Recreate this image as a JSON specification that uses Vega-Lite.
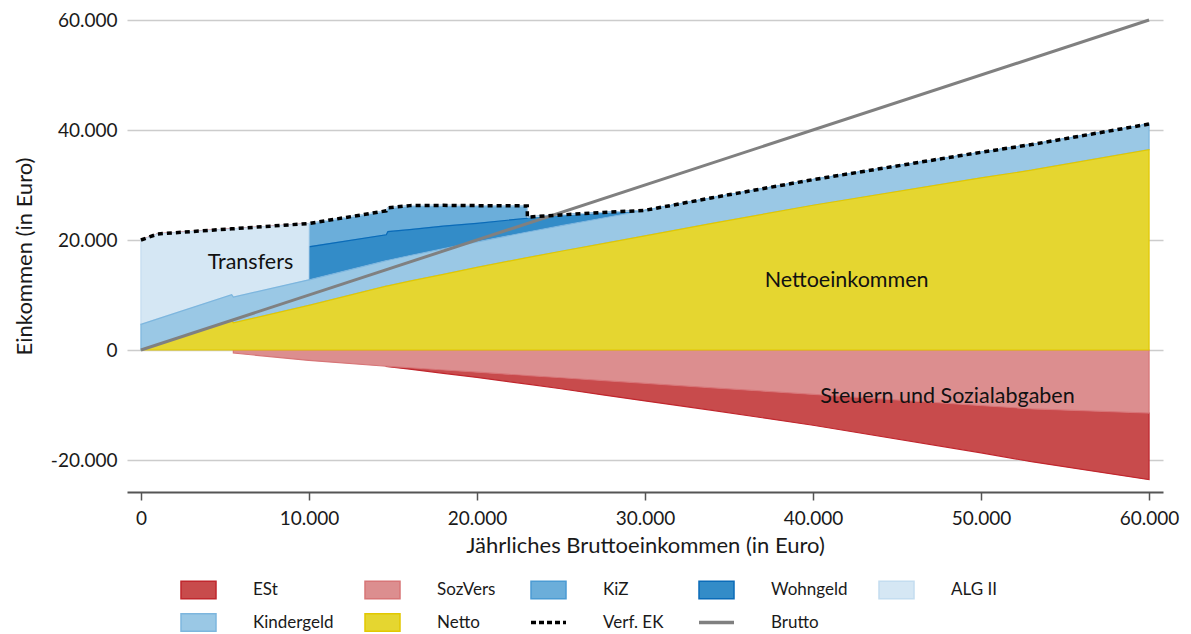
{
  "$schema": "https://vega.github.io/schema/vega-lite/v6.json",
  "autosize": "none",
  "width": 1036,
  "height": 472,
  "padding": {"left": 127, "top": 20, "right": 28, "bottom": 142},
  "config": {
    "font": "Lato",
    "locale": {"number": {"decimal": ",", "thousands": ".", "grouping": [3], "currency": ["", " €"], "minus": "-"}},
    "view": {"stroke": null},
    "axis": {"labelFont": "Lato", "titleFont": "Lato", "labelColor": "#1a1a1a", "titleColor": "#1a1a1a", "titleFontWeight": "normal"}
  },
  "datasets": {
    "werte": [
      {"b": 0, "Netto": 0, "Kindergeld": 4656, "Wohngeld": 0, "KiZ": 0, "ALG II": 15344, "SozVers": 0, "ESt": 0},
      {"b": 1000, "Netto": 1000, "Kindergeld": 4656, "Wohngeld": 0, "KiZ": 0, "ALG II": 15444, "SozVers": 0, "ESt": 0},
      {"b": 5400, "Netto": 5400, "Kindergeld": 4656, "Wohngeld": 0, "KiZ": 0, "ALG II": 11974, "SozVers": 0, "ESt": 0},
      {"b": 5500, "Netto": 4950, "Kindergeld": 4656, "Wohngeld": 0, "KiZ": 0, "ALG II": 12444, "SozVers": -550, "ESt": 0},
      {"b": 9990, "Netto": 8100, "Kindergeld": 4656, "Wohngeld": 0, "KiZ": 0, "ALG II": 10244, "SozVers": -1890, "ESt": 0},
      {"b": 10000, "Netto": 8100, "Kindergeld": 4656, "Wohngeld": 6000, "KiZ": 4244, "ALG II": 0, "SozVers": -1900, "ESt": 0},
      {"b": 14600, "Netto": 11600, "Kindergeld": 4656, "Wohngeld": 4700, "KiZ": 4344, "ALG II": 0, "SozVers": -2950, "ESt": -50},
      {"b": 14700, "Netto": 11660, "Kindergeld": 4656, "Wohngeld": 5200, "KiZ": 4334, "ALG II": 0, "SozVers": -2970, "ESt": -70},
      {"b": 16000, "Netto": 12520, "Kindergeld": 4656, "Wohngeld": 4700, "KiZ": 4374, "ALG II": 0, "SozVers": -3230, "ESt": -250},
      {"b": 18000, "Netto": 13760, "Kindergeld": 4656, "Wohngeld": 4100, "KiZ": 3784, "ALG II": 0, "SozVers": -3640, "ESt": -600},
      {"b": 20000, "Netto": 15010, "Kindergeld": 4656, "Wohngeld": 3350, "KiZ": 3234, "ALG II": 0, "SozVers": -4040, "ESt": -950},
      {"b": 22990, "Netto": 16800, "Kindergeld": 4656, "Wohngeld": 2500, "KiZ": 2244, "ALG II": 0, "SozVers": -4640, "ESt": -1550},
      {"b": 23000, "Netto": 16800, "Kindergeld": 4656, "Wohngeld": 2700, "KiZ": 0, "ALG II": 0, "SozVers": -4650, "ESt": -1550},
      {"b": 25000, "Netto": 17950, "Kindergeld": 4656, "Wohngeld": 1950, "KiZ": 0, "ALG II": 0, "SozVers": -5050, "ESt": -2000},
      {"b": 27500, "Netto": 19340, "Kindergeld": 4656, "Wohngeld": 1000, "KiZ": 0, "ALG II": 0, "SozVers": -5560, "ESt": -2600},
      {"b": 30000, "Netto": 20740, "Kindergeld": 4656, "Wohngeld": 0, "KiZ": 0, "ALG II": 0, "SozVers": -6060, "ESt": -3200},
      {"b": 34000, "Netto": 23030, "Kindergeld": 4656, "Wohngeld": 0, "KiZ": 0, "ALG II": 0, "SozVers": -6870, "ESt": -4100},
      {"b": 40000, "Netto": 26320, "Kindergeld": 4656, "Wohngeld": 0, "KiZ": 0, "ALG II": 0, "SozVers": -8080, "ESt": -5600},
      {"b": 50000, "Netto": 31300, "Kindergeld": 4656, "Wohngeld": 0, "KiZ": 0, "ALG II": 0, "SozVers": -10100, "ESt": -8600},
      {"b": 53000, "Netto": 32690, "Kindergeld": 4656, "Wohngeld": 0, "KiZ": 0, "ALG II": 0, "SozVers": -10710, "ESt": -9600},
      {"b": 60000, "Netto": 36430, "Kindergeld": 4656, "Wohngeld": 0, "KiZ": 0, "ALG II": 0, "SozVers": -11470, "ESt": -12100}
    ],
    "reihen": [
      {"typ": "Netto", "rang": 1},
      {"typ": "Kindergeld", "rang": 2},
      {"typ": "Wohngeld", "rang": 3},
      {"typ": "KiZ", "rang": 4},
      {"typ": "ALG II", "rang": 5},
      {"typ": "SozVers", "rang": 6},
      {"typ": "ESt", "rang": 7}
    ],
    "verf": [
      {"b": 0, "typ": "Verf. EK", "wert": 20000},
      {"b": 1000, "typ": "Verf. EK", "wert": 21100},
      {"b": 5400, "typ": "Verf. EK", "wert": 22030},
      {"b": 5500, "typ": "Verf. EK", "wert": 22050},
      {"b": 9990, "typ": "Verf. EK", "wert": 23000},
      {"b": 10000, "typ": "Verf. EK", "wert": 23000},
      {"b": 14600, "typ": "Verf. EK", "wert": 25300},
      {"b": 14700, "typ": "Verf. EK", "wert": 25850},
      {"b": 16000, "typ": "Verf. EK", "wert": 26250},
      {"b": 18000, "typ": "Verf. EK", "wert": 26300},
      {"b": 20000, "typ": "Verf. EK", "wert": 26250},
      {"b": 22990, "typ": "Verf. EK", "wert": 26200},
      {"b": 23000, "typ": "Verf. EK", "wert": 24156},
      {"b": 25000, "typ": "Verf. EK", "wert": 24556},
      {"b": 27500, "typ": "Verf. EK", "wert": 24996},
      {"b": 30000, "typ": "Verf. EK", "wert": 25396},
      {"b": 34000, "typ": "Verf. EK", "wert": 27686},
      {"b": 40000, "typ": "Verf. EK", "wert": 30976},
      {"b": 50000, "typ": "Verf. EK", "wert": 35956},
      {"b": 53000, "typ": "Verf. EK", "wert": 37346},
      {"b": 60000, "typ": "Verf. EK", "wert": 41086}
    ],
    "brutto": [
      {"b": 0, "typ": "Brutto", "wert": 0},
      {"b": 60000, "typ": "Brutto", "wert": 60000}
    ],
    "labels": [
      {"b": 6520, "wert": 15800, "text": "Transfers"},
      {"b": 42000, "wert": 12500, "text": "Nettoeinkommen"},
      {"b": 48000, "wert": -8550, "text": "Steuern und Sozialabgaben"}
    ]
  },
  "layer": [
    {
      "data": {"name": "werte"},
      "transform": [
        {"fold": ["ESt", "SozVers", "KiZ", "Wohngeld", "ALG II", "Kindergeld", "Netto"], "as": ["typ", "wert"]},
        {"lookup": "typ", "from": {"data": {"name": "reihen"}, "key": "typ", "fields": ["rang"]}}
      ],
      "mark": {"type": "area", "strokeWidth": 1.2, "interpolate": "linear"},
      "encoding": {
        "x": {"field": "b", "type": "quantitative", "scale": {"domain": [-830, 60830], "nice": false, "zero": false},
          "axis": {"values": [0, 10000, 20000, 30000, 40000, 50000, 60000], "format": ",d", "title": "Jährliches Bruttoeinkommen (in Euro)", "grid": false, "domainColor": "#555555", "domainWidth": 2, "tickColor": "#555555", "tickWidth": 1.5, "tickSize": 8, "labelFontSize": 19, "titleFontSize": 22, "labelPadding": 9, "titlePadding": 7, "labelFlush": false}},
        "y": {"field": "wert", "type": "quantitative", "stack": "zero", "scale": {"domain": [-25818, 60000], "nice": false, "zero": false},
          "axis": {"values": [-20000, 0, 20000, 40000, 60000], "format": ",d", "title": "Einkommen (in Euro)", "domain": false, "ticks": false, "gridColor": "#cccccc", "gridWidth": 1.5, "labelFontSize": 19, "titleFontSize": 22, "labelPadding": 10, "titlePadding": 14}},
        "order": {"field": "rang", "type": "quantitative"},
        "fill": {"field": "typ", "type": "nominal",
          "scale": {"domain": ["ESt", "SozVers", "KiZ", "Wohngeld", "ALG II", "Kindergeld", "Netto", "Verf. EK", "Brutto"],
                    "range": ["#C84B4C", "#DC8E8F", "#6BAEDA", "#338CC8", "#D5E7F4", "#9AC8E5", "#E5D630", "transparent", "transparent"]},
          "legend": {
            "title": null, "orient": "none", "legendX": 63, "legendY": 561, "direction": "horizontal", "columns": 5,
            "padding": 0, "columnPadding": 28, "rowPadding": 8, "labelOffset": 46,
            "labelFont": "Lato", "labelFontSize": 17, "labelColor": "#1a1a1a", "symbolSize": 1225,
            "encode": {"symbols": {"update": {
              "shape": {"signal": "indexof(['Verf. EK','Brutto'], datum.value) >= 0 ? 'stroke' : 'M-1,-0.5H1V0.5H-1Z'"},
              "stroke": {"signal": "scale('stroke', datum.value)"},
              "strokeWidth": {"signal": "indexof(['Verf. EK','Brutto'], datum.value) >= 0 ? 3.5 : 1.5"},
              "strokeDash": {"signal": "datum.value === 'Verf. EK' ? [5,3] : null"}
            }}}
          }},
        "stroke": {"field": "typ", "type": "nominal",
          "scale": {"domain": ["ESt", "SozVers", "KiZ", "Wohngeld", "ALG II", "Kindergeld", "Netto", "Verf. EK", "Brutto"],
                    "range": ["#C0262D", "#D77577", "#4B9BD3", "#0A6BB8", "#C4DDF0", "#7DB6DE", "#E2C800", "#000000", "#808080"]},
          "legend": null}
      }
    },
    {
      "data": {"name": "brutto"},
      "mark": {"type": "line", "strokeWidth": 3},
      "encoding": {
        "x": {"field": "b", "type": "quantitative"},
        "y": {"field": "wert", "type": "quantitative"},
        "stroke": {"field": "typ", "type": "nominal", "legend": null}
      }
    },
    {
      "data": {"name": "verf"},
      "mark": {"type": "line", "strokeWidth": 3.5, "strokeDash": [5, 4]},
      "encoding": {
        "x": {"field": "b", "type": "quantitative"},
        "y": {"field": "wert", "type": "quantitative"},
        "stroke": {"field": "typ", "type": "nominal", "legend": null}
      }
    },
    {
      "data": {"name": "labels"},
      "mark": {"type": "text", "font": "Lato", "fontSize": 21.5, "color": "#111111", "align": "center", "baseline": "middle"},
      "encoding": {
        "x": {"field": "b", "type": "quantitative"},
        "y": {"field": "wert", "type": "quantitative"},
        "text": {"field": "text"}
      }
    }
  ]
}
